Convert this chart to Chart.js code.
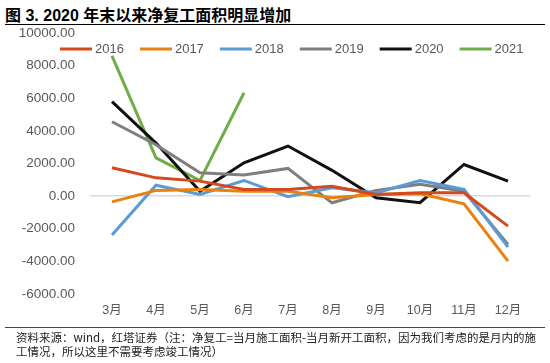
<!DOCTYPE html>
<html>
<head>
<meta charset="utf-8">
<script src="https://cdn.jsdelivr.net/npm/chart.js@4/dist/chart.umd.min.js"></script>
<style>
  html, body { margin: 0; padding: 0; background: #fff; }
  #wrap { position: relative; width: 550px; height: 363px; overflow: hidden; }
  #chart { position: absolute; left: 0; top: 0; }
  .title { position: absolute; left: 5px; top: 2px; font: bold 16px "Liberation Sans", "Noto Sans CJK SC", sans-serif; color: #000; white-space: nowrap; }
  .rule { position: absolute; left: 5px; width: 540px; height: 1px; background: #000; }
  .note { position: absolute; left: 16px; top: 330px; font: 11.5px/14px "Noto Sans CJK SC", sans-serif; color: #222; white-space: nowrap; }
</style>
</head>
<body>
<div id="wrap">
  <div class="title">图 3. 2020 年末以来净复工面积明显增加</div>
  <div class="rule" style="top:24px"></div>
  <canvas id="chart" width="550" height="363"></canvas>
  <div class="rule" style="top:327px;background:#444"></div>
  <div class="note">资料来源：wind，红塔证券（注：净复工=当月施工面积-当月新开工面积，因为我们考虑的是月内的施<br>工情况，所以这里不需要考虑竣工情况）</div>
</div>
<script>
// data
const months = ["3月", "4月", "5月", "6月", "7月", "8月", "9月", "10月", "11月", "12月"];
const s2016 = [1740, 1120, 920, 410, 410, 610, 100, 200, 200, -1840];
const s2017 = [-350, 350, 410, 300, 300, -100, 100, 140, -470, -3990];
const s2018 = [-2390, 670, 100, 960, -40, 510, 200, 960, 410, -3130];
const s2019 = [4560, 3150, 1430, 1290, 1700, -410, 350, 720, 300, -2960];
const s2020 = [5790, 3250, 300, 2040, 3070, 1580, -100, -400, 1940, 920];
const s2021 = [8600, 2350, 960, 6340, null, null, null, null, null, null];
const yTicks = [-6000, -4000, -2000, 0, 2000, 4000, 6000, 8000, 10000];

const FONT = '"Liberation Sans", "Noto Sans CJK SC", sans-serif';
const TXT = "#595959";

function line(label, data, color) {
  return {
    label: label,
    data: data,
    borderColor: color,
    backgroundColor: color,
    borderWidth: 3,
    pointRadius: 0,
    tension: 0,
    fill: false
  };
}

// one-row legend sitting inside the plot, under the lines
const rowLegend = {
  id: "rowLegend",
  beforeDatasetsDraw(chart) {
    const ctx = chart.ctx;
    const ca = chart.chartArea;
    let x = ca.left - 30;
    const y = ca.top + 16;
    ctx.save();
    ctx.font = "13px " + FONT;
    ctx.textBaseline = "middle";
    ctx.textAlign = "left";
    chart.data.datasets.forEach(ds => {
      ctx.strokeStyle = ds.borderColor;
      ctx.lineWidth = 3;
      ctx.beginPath();
      ctx.moveTo(x, y);
      ctx.lineTo(x + 32, y);
      ctx.stroke();
      ctx.fillStyle = TXT;
      ctx.fillText(ds.label, x + 35, y);
      x += 35 + ctx.measureText(ds.label).width + 16;
    });
    ctx.restore();
  }
};

new Chart(document.getElementById("chart").getContext("2d"), {
  type: "line",
  data: {
    labels: months,
    datasets: [
      line("2016", s2016, "#D44A1C"),
      line("2017", s2017, "#E8810E"),
      line("2018", s2018, "#5B9BD5"),
      line("2019", s2019, "#7F7F7F"),
      line("2020", s2020, "#111111"),
      line("2021", s2021, "#70AD47")
    ]
  },
  options: {
    responsive: false,
    animation: false,
    layout: { padding: { top: 33, bottom: 44, left: 0, right: 20 } },
    plugins: {
      legend: { display: false },
      tooltip: { enabled: false }
    },
    scales: {
      x: {
        offset: true,
        grid: { display: false, drawTicks: false },
        border: { display: false },
        ticks: { color: TXT, padding: 9, font: { family: FONT, size: 12.5 }, maxRotation: 0 },
        afterFit(s) { s.height = 25; }
      },
      y: {
        min: -6000,
        max: 10000,
        afterBuildTicks(s) { s.ticks = yTicks.map(v => ({ value: v })); },
        grid: {
          drawTicks: false,
          lineWidth: 1.5,
          color: c => (c.tick && c.tick.value === 0 ? "#D9D9D9" : "rgba(0,0,0,0)")
        },
        border: { display: false },
        ticks: {
          color: TXT,
          padding: 15,
          font: { family: FONT, size: 13.5 },
          callback: v => Number(v).toFixed(2)
        },
        afterFit(s) { s.width = 90; }
      }
    }
  },
  plugins: [rowLegend]
});
</script>
</body>
</html>
